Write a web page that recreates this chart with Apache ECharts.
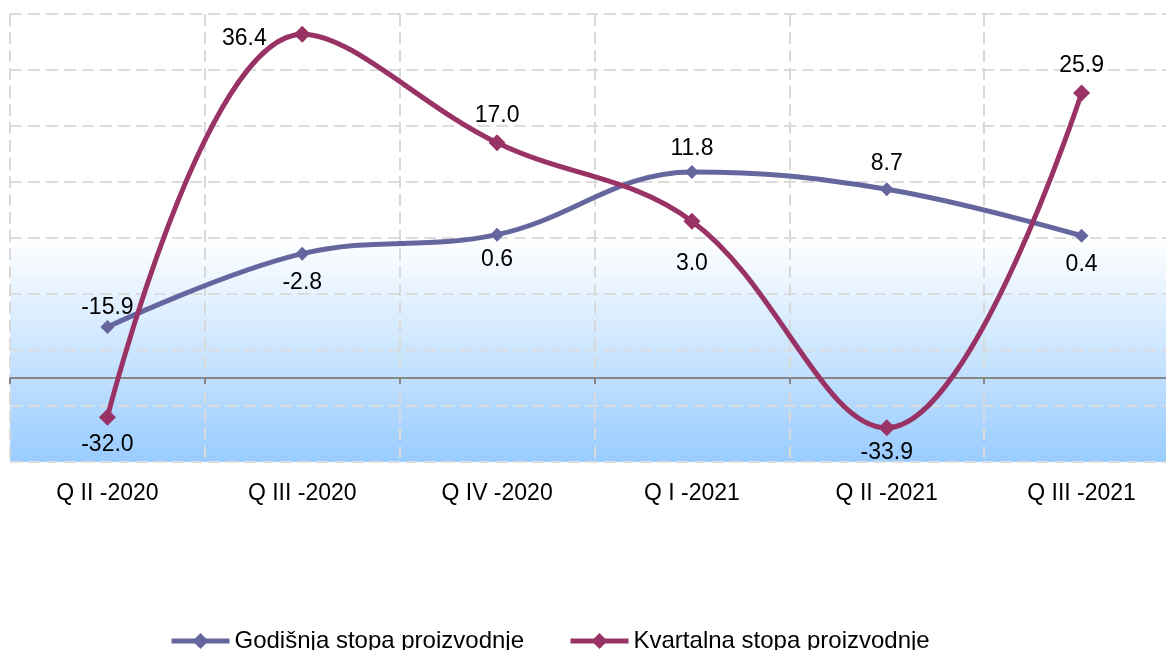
<!DOCTYPE html>
<html>
<head>
<meta charset="utf-8">
<script src="https://cdn.jsdelivr.net/npm/echarts@6/dist/echarts.min.js"></script>
<style>
html,body{margin:0;padding:0;background:#fff;}
#chart{width:1166px;height:650px;}
</style>
</head>
<body>
<div id="chart"></div>
<script>
const categories = ['Q II -2020', 'Q III -2020', 'Q IV -2020', 'Q I -2021', 'Q II -2021', 'Q III -2021'];
const seriesNames = ['Godišnja stopa proizvodnje', 'Kvartalna stopa proizvodnje'];
const godisnja = [-15.9, -2.8, 0.6, 11.8, 8.7, 0.4];
const kvartalna = [-32.0, 36.4, 17.0, 3.0, -33.9, 25.9];
const godisnjaLabelPos = ['top', 'bottom', 'bottom', 'top', 'top', 'bottom'];
const godisnjaLabelDist = [1, 10, 7, 5, 7, 10];
const kvartalnaLabelPos = ['bottom', 'left', 'top', 'bottom', 'bottom', 'top'];
const kvartalnaLabelDist = [7, 27, 7, 22, 5, 7];
const yMin = -40, yMax = 40, yStep = 10;
const axisCross = -25;

const FONT = '"Liberation Sans", Arial, sans-serif';

function buildData(vals, pos, dist) {
  return vals.map((v, i) => ({
    value: v,
    label: { position: pos[i], distance: dist[i], offset: pos[i] === 'left' ? [0, 4] : [0, 0] }
  }));
}

const chart = echarts.init(document.getElementById('chart'), null, { renderer: 'canvas' });

const option = {
  backgroundColor: '#ffffff',
  animation: false,
  textStyle: { fontFamily: FONT },
  grid: { left: 10, width: 1169, top: 14, height: 448, containLabel: false, outerBoundsMode: 'none' },
  legend: {
    left: 164,
    top: 624,
    itemGap: 44,
    itemWidth: 58,
    itemHeight: 20,
    lineStyle: { width: 5 },
    textStyle: { fontSize: 24, color: '#000', fontFamily: FONT },
    data: seriesNames
  },
  xAxis: [
    {
      type: 'category',
      data: categories,
      boundaryGap: true,
      z: 3,
      axisLine: { show: true, onZero: true, onZeroAxisIndex: 1, lineStyle: { color: '#868686', width: 2 } },
      axisTick: { show: true, length: 6, lineStyle: { color: '#868686', width: 2 } },
      axisLabel: { show: false },
      splitLine: { show: true, lineStyle: { color: '#D9D9D9', width: 2, type: [12, 6] } }
    },
    {
      type: 'category',
      data: categories,
      boundaryGap: true,
      position: 'bottom',
      axisLine: { show: false, onZero: false },
      axisTick: { show: false },
      splitLine: { show: false },
      axisLabel: { show: true, margin: 20, fontSize: 23, color: '#000', fontFamily: FONT }
    }
  ],
  yAxis: [
    {
      type: 'value',
      min: yMin,
      max: yMax,
      interval: yStep,
      z: 3,
      axisLine: { show: false },
      axisTick: { show: false },
      axisLabel: { show: false },
      splitLine: { show: true, lineStyle: { color: '#DCDCDC', width: 2, type: [12, 6] } }
    },
    {
      type: 'value',
      min: yMin - axisCross,
      max: yMax - axisCross,
      interval: yStep,
      axisLine: { show: false },
      axisTick: { show: false },
      axisLabel: { show: false },
      splitLine: { show: false }
    }
  ],
  series: [
    {
      name: 'bg',
      type: 'line',
      z: 1,
      data: [],
      silent: true,
      markArea: {
        silent: true,
        z: 1,
        itemStyle: {
          color: new echarts.graphic.LinearGradient(0, 0, 0, 1, [
            { offset: 0, color: '#FFFFFF' },
            { offset: 1, color: '#99CCFF' }
          ])
        },
        data: [[{ yAxis: 0 }, { yAxis: yMin }]]
      }
    },
    {
      name: seriesNames[0],
      type: 'line',
      z: 5,
      smooth: 0.38,
      data: buildData(godisnja, godisnjaLabelPos, godisnjaLabelDist),
      lineStyle: { color: '#66669F', width: 5 },
      itemStyle: { color: '#66669F' },
      symbol: 'diamond',
      symbolSize: 14,
      label: {
        show: true,
        fontSize: 23,
        color: '#000',
        fontFamily: FONT,
        formatter: p => p.value.toFixed(1)
      }
    },
    {
      name: seriesNames[1],
      type: 'line',
      z: 5,
      smooth: 0.38,
      data: buildData(kvartalna, kvartalnaLabelPos, kvartalnaLabelDist),
      lineStyle: { color: '#993366', width: 5 },
      itemStyle: { color: '#993366' },
      symbol: 'diamond',
      symbolSize: 17,
      label: {
        show: true,
        fontSize: 23,
        color: '#000',
        fontFamily: FONT,
        formatter: p => p.value.toFixed(1)
      }
    }
  ]
};

chart.setOption(option);
</script>
</body>
</html>
